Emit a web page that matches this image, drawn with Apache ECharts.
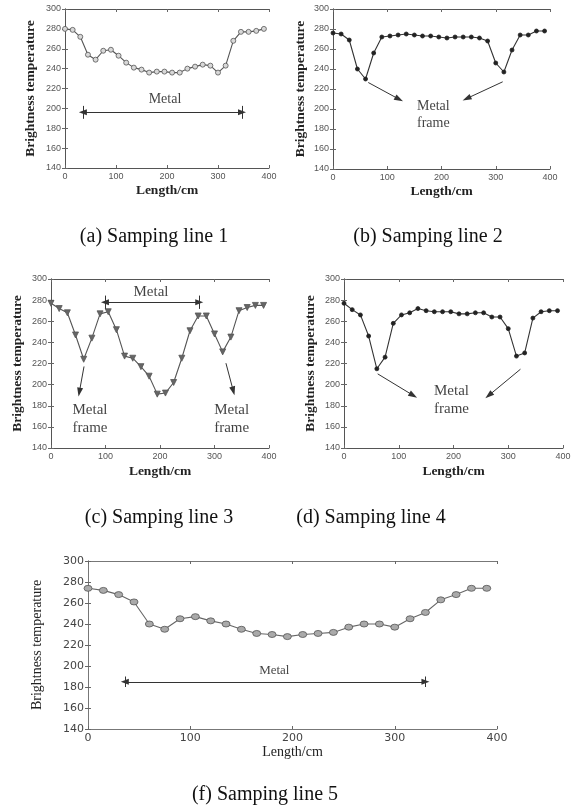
<!DOCTYPE html>
<html><head><meta charset="utf-8">
<script src="https://cdn.jsdelivr.net/npm/echarts@6/dist/echarts.min.js"></script>
<style>html,body{margin:0;padding:0;background:#fff}#c{width:574px;height:807px}</style>
</head><body><div id="c"></div>
<script>
// ---- data ----
const lengthCm = [0,15,30,45,60,75,90,105,120,135,150,165,180,195,210,225,240,255,270,285,300,315,330,345,360,375,390];
const line1 = [280,279,272,254,249,258,259,253,246,241,239,236,237,237,236,236,240,242,244,243,236,243,268,277,277,278,280];
const line2 = [276,275,269,240,230,256,272,273,274,275,274,273,273,272,271,272,272,272,271,268,246,237,259,274,274,278,278];
const line3 = [277,272,268,247,224,244,267,269,252,227,225,217,208,191,192,202,225,251,265,265,248,231,245,270,273,275,275];
const line4 = [277,271,266,246,215,226,258,266,268,272,270,269,269,269,267,267,268,268,264,264,253,227,230,263,269,270,270];
const line5 = [274,272,268,261,240,235,245,247,243,240,235,231,230,228,230,231,232,237,240,240,237,245,251,263,268,274,274];
const xTicks = [0,100,200,300,400];
const yTicks = [140,160,180,200,220,240,260,280,300];
const captions = ['(a) Samping line 1','(b) Samping line 2','(c) Samping line 3','(d) Samping line 4','(f) Samping line 5'];
const xName = 'Length/cm';
const yName = 'Brightness temperature';
// annotations (data units): brackets [x1, x2, y, barHalf], arrows [x1,y1,x2,y2], texts [x,y,text]
const brackets = [[[35,347,196,6.5]], [], [[99,272,278,6.3]], [], [[36,330,185,5]]];
const arrows = [[], [[65,226.5,121.7,209.8],[312.8,227.2,246.5,210.5]], [[60.6,217.2,52,192.9],[321,220.3,334.5,194]], [[61.5,210.2,126.4,189.8],[322.3,214.6,264.5,189.8]], []];
const texts = [[[196,208.7,'Metal']], [[185,193.8,'Metal\nframe']], [[183.5,287.4,'Metal'],[71.6,167.5,'Metal\nframe'],[331.5,167.5,'Metal\nframe']], [[196.4,185.4,'Metal\nframe']], [[182.2,195.5,'Metal']]];
const seriesData = [line1,line2,line3,line4,line5];

// ---- layout / style ----
const panels = [
  {left:65, top:9, width:204, height:159, sym:'circle', size:5, fill:'#d8d8d8', border:'#555', line:'#555', rot:0, yGap:27, xGap:16, capX:154, capY:237, txt:14, lh:17},
  {left:333, top:9, width:217, height:160, sym:'circle', size:4, fill:'#222', border:'#222', line:'#333', rot:0, yGap:25, xGap:16, capX:428, capY:237, txt:14, lh:17},
  {left:51, top:279, width:218, height:169, sym:'triangle', size:6, fill:'#666', border:'#555', line:'#555', rot:180, yGap:26, xGap:17, capX:159, capY:518, txt:15, lh:18},
  {left:344, top:279, width:219, height:169, sym:'circle', size:4, fill:'#222', border:'#222', line:'#333', rot:0, yGap:26, xGap:17, capX:371, capY:518, txt:15, lh:18},
  {left:88, top:561, width:409, height:168, sym:'circle', size:[8,6], fill:'#aaa', border:'#555', line:'#666', rot:0, yGap:44, xGap:15, capX:265, capY:795, txt:13, lh:16, wide:true}
];

const grid = [], xAxis = [], yAxis = [], series = [], graphic = [];
panels.forEach((p, i) => {
  grid.push({left:p.left, top:p.top, width:p.width, height:p.height, show:false});
  const frame = {show:true, lineStyle:{color: p.wide ? '#777' : '#555', width:1}};
  const tickLab = p.wide
    ? {fontFamily:'DejaVu Sans', fontSize:11, color:'#444'}
    : {fontFamily:'Liberation Sans', fontSize:9, color:'#555'};
  const nameStyle = p.wide
    ? {fontFamily:'Liberation Serif', fontSize:14, color:'#222'}
    : {fontFamily:'Liberation Serif', fontSize:13.5, fontWeight:'bold', color:'#222'};
  xAxis.push({gridIndex:i, type:'value', position:'bottom', min:xTicks[0], max:xTicks[xTicks.length-1], interval:xTicks[1]-xTicks[0],
    axisLine:frame, axisTick:{show:true, inside:true, length:3, lineStyle:{color:'#666'}}, splitLine:{show:false},
    axisLabel:Object.assign({margin:4}, tickLab),
    name:xName, nameLocation:'middle', nameGap:p.xGap, nameTextStyle:nameStyle});
  xAxis.push({gridIndex:i, type:'value', position:'top', min:xTicks[0], max:xTicks[xTicks.length-1], interval:xTicks[1]-xTicks[0],
    axisLine:frame, axisTick:{show:true, inside:true, length:3, lineStyle:{color:'#666'}}, splitLine:{show:false}, axisLabel:{show:false}});
  yAxis.push({gridIndex:i, type:'value', position:'left', min:yTicks[0], max:yTicks[yTicks.length-1], interval:yTicks[1]-yTicks[0],
    axisLine:frame, axisTick:{show:true, inside:true, length:3, lineStyle:{color:'#666'}}, splitLine:{show:false},
    axisLabel:Object.assign({margin:4}, tickLab),
    name:yName, nameLocation:'middle', nameGap:p.yGap, nameTextStyle:nameStyle});
  yAxis.push({gridIndex:i, type:'value', position:'right', min:yTicks[0], max:yTicks[yTicks.length-1], interval:yTicks[1]-yTicks[0],
    axisLine:frame, axisTick:{show:true, inside:true, length:3, lineStyle:{color:'#666'}}, splitLine:{show:false}, axisLabel:{show:false}});

  const ml = [];
  brackets[i].forEach(b => {
    ml.push([{coord:[b[0], b[2]], symbol:'triangle', symbolSize:[6,8]}, {coord:[b[1], b[2]], symbol:'triangle', symbolSize:[6,8]}]);
    ml.push([{coord:[b[0], b[2]-b[3]]}, {coord:[b[0], b[2]+b[3]]}]);
    ml.push([{coord:[b[1], b[2]-b[3]]}, {coord:[b[1], b[2]+b[3]]}]);
  });
  arrows[i].forEach(a => {
    ml.push([{coord:[a[0], a[1]], symbol:'none'}, {coord:[a[2], a[3]], symbol:'triangle', symbolSize:[6,9]}]);
  });

  series.push({type:'line', xAxisIndex:2*i, yAxisIndex:2*i,
    data: lengthCm.map((x, k) => [x, seriesData[i][k]]),
    symbol:p.sym, symbolSize:p.size, symbolRotate:p.rot, showAllSymbol:true,
    lineStyle:{color:p.line, width:1.1}, itemStyle:{color:p.fill, borderColor:p.border, borderWidth:0.8},
    animation:false, silent:true,
    markLine:{silent:true, animation:false, symbol:['none','none'], label:{show:false},
      lineStyle:{color:'#333', width:1, type:'solid'}, itemStyle:{color:'#333'}, emphasis:{disabled:true}, data:ml}
  });
  series.push({type:'scatter', xAxisIndex:2*i, yAxisIndex:2*i, symbolSize:0, silent:true, animation:false,
    data: texts[i].map(t => ({value:[t[0], t[1]], name:t[2]})),
    label:{show:true, position:'inside', formatter:'{b}', fontFamily:'Liberation Serif', fontSize:p.txt, lineHeight:p.lh, color:'#111'}
  });
  graphic.push({type:'text', x:p.capX, y:p.capY, style:{text:captions[i], fill:'#111', font:'20px "Liberation Serif"', textAlign:'center', textVerticalAlign:'middle'}});
});

const chart = echarts.init(document.getElementById('c'), null, {renderer:'canvas'});
chart.setOption({backgroundColor:'#fff', animation:false, grid, xAxis, yAxis, series, graphic});
</script></body></html>
